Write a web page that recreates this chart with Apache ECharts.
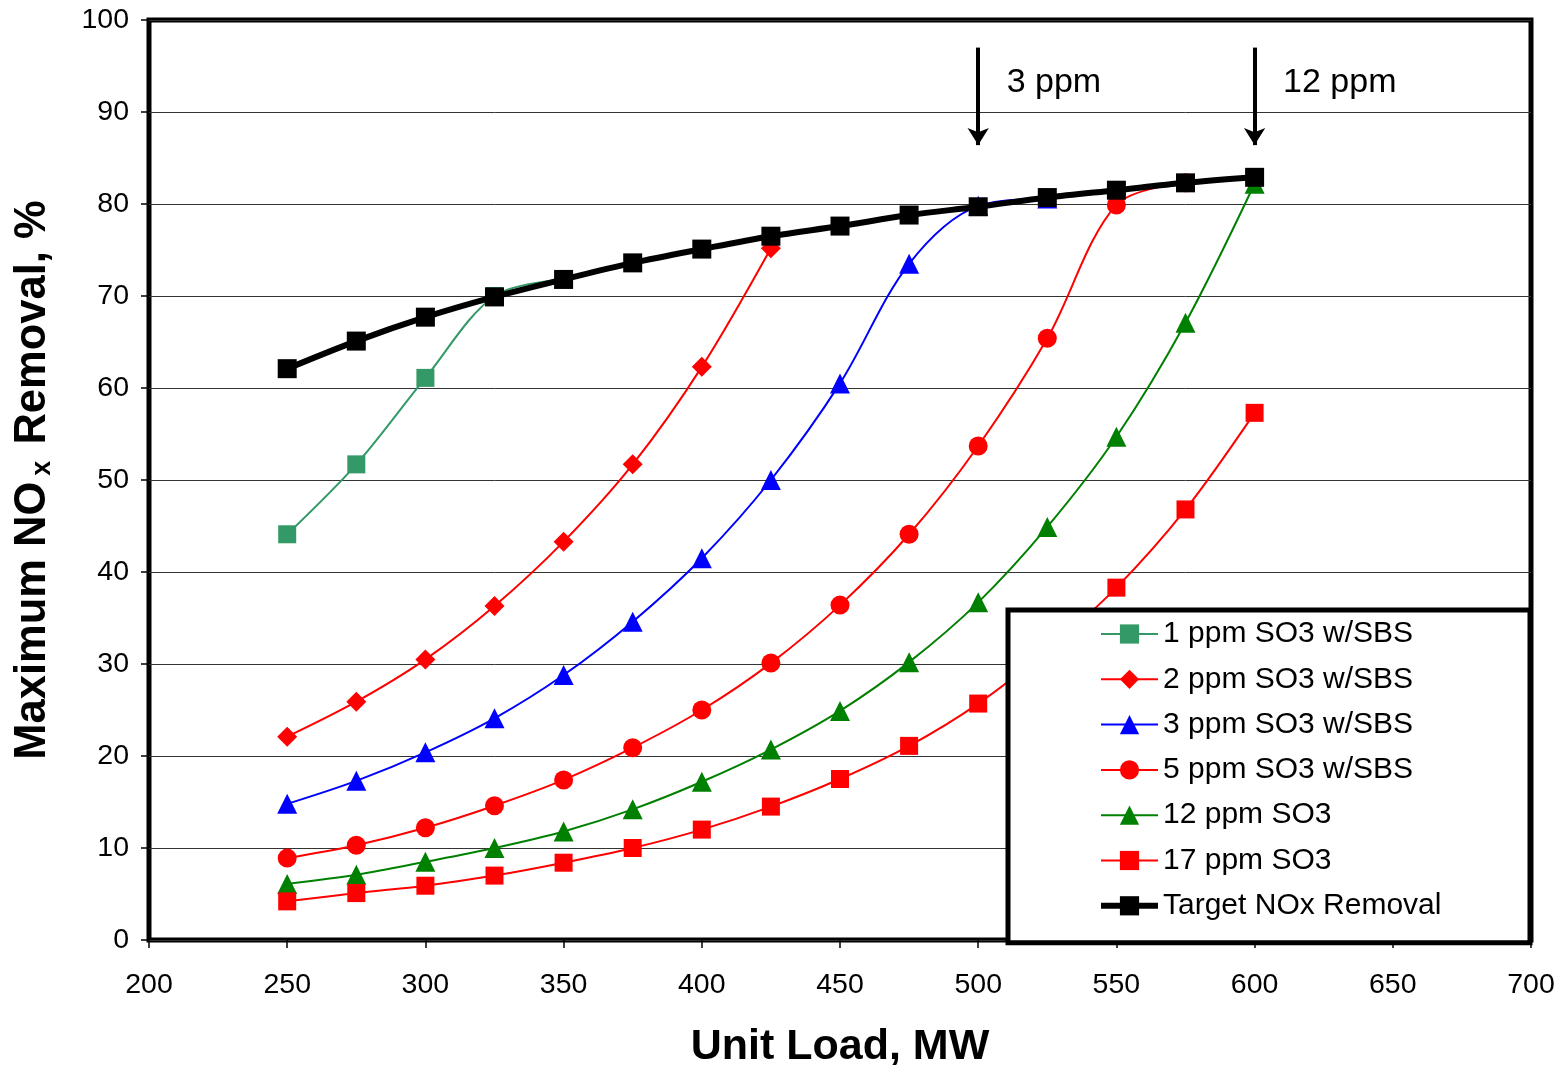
<!DOCTYPE html>
<html>
<head>
<meta charset="utf-8">
<script src="https://cdn.jsdelivr.net/npm/echarts@6/dist/echarts.min.js"></script>
<style>
  html, body { margin: 0; padding: 0; background: #fff; }
  #chart { width: 1562px; height: 1065px; }
</style>
</head>
<body>
<div id="chart"></div>
<script>
// Unit load (MW) at which each removal value was evaluated
const loads = [250, 275, 300, 325, 350, 375, 400, 425, 450, 475, 500, 525, 550, 575, 600];

// Maximum NOx removal (%) for each SO3 level; null = no point at that load
const so3_1ppm  = [44.1, 51.7, 61.1, 70.0, 71.8, null, null, null, null, null, null, null, null, null, null];
const so3_2ppm  = [22.1, 25.9, 30.5, 36.3, 43.3, 51.7, 62.3, 75.2, null, null, null, null, null, null, null];
const so3_3ppm  = [14.8, 17.3, 20.4, 24.1, 28.8, 34.6, 41.5, 50.0, 60.5, 73.5, 79.8, 80.6, null, null, null];
const so3_5ppm  = [8.9, 10.3, 12.2, 14.6, 17.4, 20.9, 25.0, 30.1, 36.4, 44.1, 53.7, 65.4, 79.9, 82.3, null];
const so3_12ppm = [6.1, 7.1, 8.5, 10.0, 11.8, 14.2, 17.2, 20.7, 24.9, 30.2, 36.7, 44.9, 54.7, 67.1, 82.2];
const so3_17ppm = [4.2, 5.1, 5.9, 7.0, 8.4, 10.0, 12.0, 14.5, 17.5, 21.1, 25.7, 31.5, 38.3, 46.8, 57.3];
const targetNOx = [62.1, 65.1, 67.7, 69.9, 71.8, 73.6, 75.1, 76.5, 77.6, 78.8, 79.7, 80.7, 81.5, 82.3, 82.9];

// Axis ticks
const xTicks = { min: 200, max: 700, step: 50 };
const yTicks = { min: 0, max: 100, step: 10 };

// Arrow call-outs: load where each SO3 level reaches the target curve
const calloutLoads  = [500, 600];
const calloutLabels = ['3 ppm', '12 ppm'];
const arrowTop = 97.0, arrowTip = 86.4, labelLevel = 93.2;

const FONT = 'Arial, "Liberation Sans", sans-serif';

function pairs(vals) {
  const out = [];
  loads.forEach((x, i) => { if (vals[i] !== null) out.push([x, vals[i]]); });
  return out;
}

function lineSeries(name, vals, color, symbol, size, width, z) {
  return {
    name, type: 'line', data: pairs(vals),
    smooth: 0.33, symbol, symbolSize: size, z,
    itemStyle: { color, borderWidth: 0 },
    lineStyle: { color, width },
    emphasis: { disabled: true },
    animation: false
  };
}

const series = [
  lineSeries('1 ppm SO3 w/SBS', so3_1ppm, '#339966', 'rect', 18, 2, 3),
  lineSeries('2 ppm SO3 w/SBS', so3_2ppm, '#ff0000', 'diamond', 20, 2, 3),
  lineSeries('3 ppm SO3 w/SBS', so3_3ppm, '#0000ff', 'triangle', 20, 2, 3),
  lineSeries('5 ppm SO3 w/SBS', so3_5ppm, '#ff0000', 'circle', 19, 2, 3),
  lineSeries('12 ppm SO3', so3_12ppm, '#008000', 'triangle', 20, 2, 3),
  lineSeries('17 ppm SO3', so3_17ppm, '#ff0000', 'rect', 18, 2, 3),
  lineSeries('Target NOx Removal', targetNOx, '#000000', 'rect', 19, 6, 4),
  {
    // arrows and their labels
    name: 'callouts', type: 'line', data: [], z: 5, animation: false,
    markLine: {
      silent: true, animation: false,
      symbol: ['none', 'arrow'], symbolSize: [16, 17],
      lineStyle: { color: '#000', width: 4, type: 'solid' },
      label: { show: false },
      data: calloutLoads.map(x => [{ coord: [x, arrowTop] }, { coord: [x, arrowTip] }])
    },
    markPoint: {
      silent: true, animation: false, symbol: 'circle', symbolSize: 1,
      itemStyle: { color: 'rgba(0,0,0,0)' },
      label: {
        show: true, position: 'right', distance: 28,
        formatter: p => p.name,
        color: '#000', fontFamily: FONT, fontSize: 34
      },
      data: calloutLoads.map((x, i) => ({ name: calloutLabels[i], coord: [x, labelLevel] }))
    }
  }
];

const chart = echarts.init(document.getElementById('chart'), null, { renderer: 'canvas' });
chart.setOption({
  backgroundColor: '#fff',
  animation: false,
  textStyle: { fontFamily: FONT },
  grid: {
    left: 149, right: 31, top: 20, bottom: 125,
    outerBoundsMode: 'none', containLabel: false,
    show: true, borderColor: '#000', borderWidth: 5, backgroundColor: 'transparent'
  },
  xAxis: {
    type: 'value', min: xTicks.min, max: xTicks.max, interval: xTicks.step,
    name: 'Unit Load, MW', nameLocation: 'middle', nameGap: 86,
    nameTextStyle: { fontFamily: FONT, fontSize: 43, fontWeight: 'bold', color: '#000' },
    axisLine: { show: false },
    axisTick: { show: true, length: 8, lineStyle: { color: '#000', width: 1.5 } },
    axisLabel: { color: '#000', fontFamily: FONT, fontSize: 28.5, margin: 31 },
    splitLine: { show: false }
  },
  yAxis: {
    type: 'value', min: yTicks.min, max: yTicks.max, interval: yTicks.step,
    name: '{a|Maximum NO}{b|x}{a| Removal, %}',
    nameLocation: 'middle', nameGap: 93, nameRotate: 90,
    nameTextStyle: {
      color: '#000',
      rich: {
        a: { fontFamily: FONT, fontSize: 43.5, fontWeight: 'bold', color: '#000' },
        b: { fontFamily: FONT, fontSize: 27, fontWeight: 'bold', color: '#000', padding: [20, 4, 0, 6] }
      }
    },
    axisLine: { show: false },
    axisTick: { show: true, length: 8, lineStyle: { color: '#000', width: 1.5 } },
    axisLabel: { color: '#000', fontFamily: FONT, fontSize: 28.5, margin: 20 },
    splitLine: { show: true, lineStyle: { color: '#333', width: 1 } }
  },
  legend: {
    orient: 'vertical', left: 1008, top: 610,
    data: ['1 ppm SO3 w/SBS', '2 ppm SO3 w/SBS', '3 ppm SO3 w/SBS', '5 ppm SO3 w/SBS',
           '12 ppm SO3', '17 ppm SO3', 'Target NOx Removal'],
    backgroundColor: '#fff', borderColor: '#000', borderWidth: 5,
    padding: [9, 87, 22, 90],
    itemWidth: 57, itemHeight: 24, itemGap: 15.3,
    lineStyle: { width: 'inherit' },
    selectedMode: false,
    textStyle: { color: '#000', fontFamily: FONT, fontSize: 30, lineHeight: 30, width: 280 }
  },
  series
});
</script>
</body>
</html>
